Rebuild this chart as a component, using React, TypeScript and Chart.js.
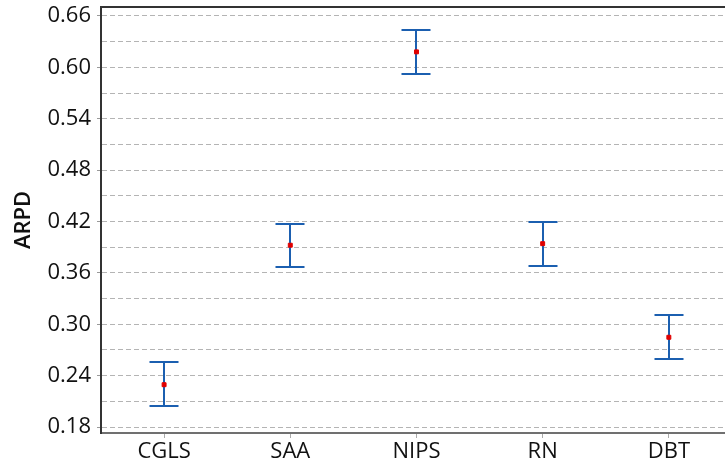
import { useEffect, useRef } from 'react';
import { Chart, registerables } from 'chart.js';

Chart.register(...registerables);

// Methods compared on the horizontal axis
const categories = ['CGLS', 'SAA', 'NIPS', 'RN', 'DBT'];
// Mean ARPD per method and the ends of its interval
const meanValues = [0.2294, 0.3923, 0.6181, 0.3941, 0.2848];
const lowerValues = [0.2045, 0.3669, 0.5924, 0.3681, 0.2594];
const upperValues = [0.2556, 0.4172, 0.6434, 0.4198, 0.3108];
// Grid positions on the ARPD axis; every other one carries a label
const yGridValues = [0.18, 0.21, 0.24, 0.27, 0.30, 0.33, 0.36, 0.39, 0.42, 0.45, 0.48, 0.51, 0.54, 0.57, 0.60, 0.63, 0.66];
const yLabelValues = [0.18, 0.24, 0.30, 0.36, 0.42, 0.48, 0.54, 0.60, 0.66];

const FONT = "'Open Sans', 'DejaVu Sans', sans-serif";
const BAR_BLUE = '#1b5fb0';
const MEAN_RED = '#e00000';

const isLabelled = (v: number) => yLabelValues.some((l) => Math.abs(l - v) < 1e-6);

// Interval stems with caps, drawn under the mean markers
const errorBarPlugin = {
  id: 'errorBars',
  beforeDatasetsDraw(chart: any) {
    const { ctx, scales } = chart;
    const x = scales.x;
    const y = scales.y;
    const capHalf = 14.5;
    ctx.save();
    ctx.strokeStyle = BAR_BLUE;
    ctx.lineWidth = 2;
    categories.forEach((_, i) => {
      const px = Math.round(x.getPixelForValue(i));
      const top = Math.round(y.getPixelForValue(upperValues[i]));
      const bot = Math.round(y.getPixelForValue(lowerValues[i]));
      ctx.beginPath();
      ctx.moveTo(px, top);
      ctx.lineTo(px, bot);
      ctx.moveTo(px - capHalf, top);
      ctx.lineTo(px + capHalf, top);
      ctx.moveTo(px - capHalf, bot);
      ctx.lineTo(px + capHalf, bot);
      ctx.stroke();
    });
    ctx.restore();
  },
};

// Frame line along the top of the plot area
const topFramePlugin = {
  id: 'topFrame',
  afterDraw(chart: any) {
    const { ctx, chartArea } = chart;
    ctx.save();
    ctx.strokeStyle = '#333333';
    ctx.lineWidth = 2;
    ctx.beginPath();
    ctx.moveTo(chartArea.left - 1, chartArea.top);
    ctx.lineTo(chartArea.right, chartArea.top);
    ctx.stroke();
    ctx.restore();
  },
};

export default function App() {
  const canvasRef = useRef<HTMLCanvasElement | null>(null);

  useEffect(() => {
    document.body.style.margin = '0';
    const canvas = canvasRef.current;
    if (!canvas) return;

    const chart = new Chart(canvas, {
      type: 'scatter',
      data: {
        datasets: [
          {
            label: 'Mean',
            data: meanValues.map((v, i) => ({ x: i, y: v })),
            pointStyle: 'rect',
            pointRadius: 2.8,
            pointBackgroundColor: MEAN_RED,
            pointBorderColor: MEAN_RED,
            pointBorderWidth: 1,
            showLine: false,
          },
        ],
      },
      options: {
        animation: false,
        responsive: false,
        devicePixelRatio: 1,
        layout: { autoPadding: false, padding: { top: 7, right: 0, left: 0, bottom: 0 } },
        plugins: {
          legend: { display: false },
          tooltip: { enabled: false },
        },
        scales: {
          x: {
            type: 'linear',
            min: -0.5,
            max: 4.445,
            afterBuildTicks: (s: any) => {
              s.ticks = categories.map((_, i) => ({ value: i }));
            },
            afterFit: (s: any) => {
              s.height = 31;
              s.paddingLeft = 0;
              s.paddingRight = 0;
            },
            ticks: {
              callback: (v: any) => categories[Math.round(Number(v))] ?? '',
              font: { family: FONT, size: 22 },
              color: '#111111',
              padding: 1,
              maxRotation: 0,
              autoSkip: false,
            },
            grid: {
              display: true,
              drawOnChartArea: false,
              drawTicks: true,
              tickLength: 5,
              tickColor: '#aaaaaa',
              tickWidth: 1,
            },
            border: { display: true, color: '#707070', width: 2 },
          },
          y: {
            type: 'linear',
            min: 0.173,
            max: 0.6705,
            afterBuildTicks: (s: any) => {
              s.ticks = yGridValues.map((v) => ({ value: v }));
            },
            afterFit: (s: any) => {
              s.width = 101;
              s.paddingTop = 0;
              s.paddingBottom = 0;
            },
            ticks: {
              callback: (v: any) => (isLabelled(Number(v)) ? Number(v).toFixed(2) : ''),
              font: { family: FONT, size: 22 },
              color: '#111111',
              padding: 6,
              autoSkip: false,
            },
            grid: {
              display: true,
              drawOnChartArea: true,
              drawTicks: true,
              tickLength: 4,
              color: '#b4b4b4',
              lineWidth: 1,
              tickWidth: 1,
              tickColor: (c: any) => (c.tick && isLabelled(c.tick.value) ? '#999999' : 'rgba(0,0,0,0)'),
            },
            border: { display: true, color: '#333333', width: 2, dash: [5, 3] },
            title: {
              display: true,
              text: 'ARPD',
              font: { family: FONT, size: 22, weight: '600' },
              color: '#111111',
              padding: { top: 11, bottom: 0 },
            },
          },
        },
      },
      plugins: [errorBarPlugin, topFramePlugin],
    });

    return () => chart.destroy();
  }, []);

  return (
    <div style={{ width: 725, height: 464 }}>
      <canvas ref={canvasRef} width={725} height={464} style={{ display: 'block' }} />
    </div>
  );
}
